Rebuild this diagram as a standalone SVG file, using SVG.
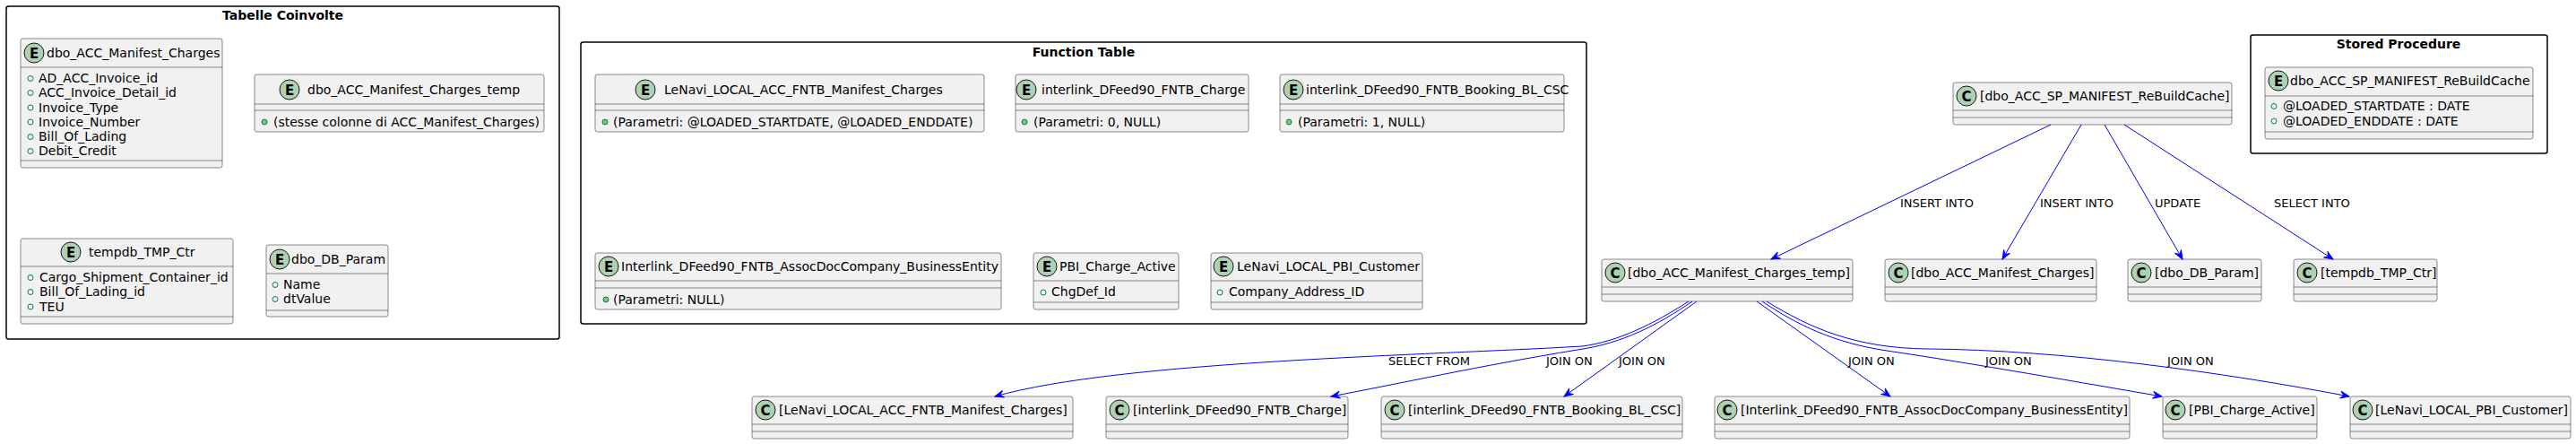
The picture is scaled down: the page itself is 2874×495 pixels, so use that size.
<svg xmlns="http://www.w3.org/2000/svg" width="2874" height="495" viewBox="0 0 2874 495">
<style>
text{font-family:"DejaVu Sans","Liberation Sans",sans-serif;fill:#000}
.pkg{fill:none;stroke:#000;stroke-width:1.5}
.pt{font-size:14px;font-weight:bold;text-anchor:middle}
.box{fill:#F1F1F1;stroke:#181818;stroke-width:0.5}
.ln{stroke:#181818;stroke-width:0.5}
.ci{fill:#ADD1B2;stroke:#181818;stroke-width:1}
.cl{font-size:15px;font-weight:bold;text-anchor:middle}
.nm{font-size:14px}
.fo{fill:none;stroke:#038048;stroke-width:1}
.mf{fill:#84BE84;stroke:#038048;stroke-width:1}
.e{fill:none;stroke:#0000FF;stroke-width:1;marker-end:url(#arr)}
.el{font-size:13px}
</style>
<defs>
<marker id="arr" markerUnits="userSpaceOnUse" markerWidth="12" markerHeight="10" viewBox="-11 -5 12 10" refX="0" refY="0" orient="auto">
<path d="M0,0 L-10,-4 L-6,0 L-10,4 Z" fill="#0000FF" stroke="#0000FF" stroke-width="1"/>
</marker>
</defs>

<g id="pkg_tabelle">
<rect class="pkg" x="7" y="7" width="617" height="371" rx="2.5"/>
<text class="pt" x="315.5" y="22">Tabelle Coinvolte</text>
</g>
<g id="pkg_function">
<rect class="pkg" x="648" y="47" width="1122" height="314" rx="2.5"/>
<text class="pt" x="1209" y="63">Function Table</text>
</g>
<g id="pkg_sp">
<rect class="pkg" x="2511" y="39" width="331" height="132" rx="2.5"/>
<text class="pt" x="2676" y="54">Stored Procedure</text>
</g>

<g id="e_dbo_ACC_Manifest_Charges">
<rect class="box" x="23" y="43" width="225" height="144" rx="2.5"/>
<circle class="ci" cx="38" cy="59" r="11"/><text class="cl" x="38" y="64.5">E</text>
<text class="nm" x="52" y="64">dbo_ACC_Manifest_Charges</text>
<line class="ln" x1="23" y1="75" x2="248" y2="75"/>
<circle class="fo" cx="34" cy="87.5" r="3"/><text class="nm" x="43" y="92">AD_ACC_Invoice_id</text>
<circle class="fo" cx="34" cy="103.5" r="3"/><text class="nm" x="43" y="108">ACC_Invoice_Detail_id</text>
<circle class="fo" cx="34" cy="120" r="3"/><text class="nm" x="43" y="124.5">Invoice_Type</text>
<circle class="fo" cx="34" cy="136" r="3"/><text class="nm" x="43" y="140.5">Invoice_Number</text>
<circle class="fo" cx="34" cy="152.5" r="3"/><text class="nm" x="43" y="157">Bill_Of_Lading</text>
<circle class="fo" cx="34" cy="168.5" r="3"/><text class="nm" x="43" y="173">Debit_Credit</text>
<line class="ln" x1="23" y1="179" x2="248" y2="179"/>
</g>

<g id="e_dbo_ACC_Manifest_Charges_temp">
<rect class="box" x="284" y="83" width="323" height="64" rx="2.5"/>
<circle class="ci" cx="323" cy="100" r="11"/><text class="cl" x="323" y="105.5">E</text>
<text class="nm" x="343" y="105">dbo_ACC_Manifest_Charges_temp</text>
<line class="ln" x1="284" y1="116" x2="607" y2="116"/>
<line class="ln" x1="284" y1="123" x2="607" y2="123"/>
<circle class="mf" cx="295" cy="136" r="3"/><text class="nm" x="305" y="140.5">(stesse colonne di ACC_Manifest_Charges)</text>
</g>

<g id="e_tempdb_TMP_Ctr">
<rect class="box" x="23" y="266" width="237" height="95" rx="2.5"/>
<circle class="ci" cx="79" cy="281" r="11"/><text class="cl" x="79" y="286.5">E</text>
<text class="nm" x="99" y="286">tempdb_TMP_Ctr</text>
<line class="ln" x1="23" y1="297" x2="260" y2="297"/>
<circle class="fo" cx="34" cy="309.5" r="3"/><text class="nm" x="44" y="314">Cargo_Shipment_Container_id</text>
<circle class="fo" cx="34" cy="325.5" r="3"/><text class="nm" x="44" y="330">Bill_Of_Lading_id</text>
<circle class="fo" cx="34" cy="342" r="3"/><text class="nm" x="44" y="346.5">TEU</text>
<line class="ln" x1="23" y1="353" x2="260" y2="353"/>
</g>

<g id="e_dbo_DB_Param">
<rect class="box" x="297" y="273" width="136" height="80" rx="2.5"/>
<circle class="ci" cx="312" cy="289" r="11"/><text class="cl" x="312" y="294.5">E</text>
<text class="nm" x="325" y="294">dbo_DB_Param</text>
<line class="ln" x1="297" y1="305" x2="433" y2="305"/>
<circle class="fo" cx="307" cy="317.5" r="3"/><text class="nm" x="316" y="322">Name</text>
<circle class="fo" cx="307" cy="333.5" r="3"/><text class="nm" x="316" y="338">dtValue</text>
<line class="ln" x1="297" y1="346" x2="433" y2="346"/>
</g>

<g id="f_LeNavi_LOCAL_ACC_FNTB_Manifest_Charges">
<rect class="box" x="664" y="83" width="434" height="64" rx="2.5"/>
<circle class="ci" cx="720" cy="100" r="11"/><text class="cl" x="720" y="105.5">E</text>
<text class="nm" x="741" y="105">LeNavi_LOCAL_ACC_FNTB_Manifest_Charges</text>
<line class="ln" x1="664" y1="116" x2="1098" y2="116"/>
<line class="ln" x1="664" y1="123" x2="1098" y2="123"/>
<circle class="mf" cx="675" cy="136" r="3"/><text class="nm" x="684" y="140.5">(Parametri: @LOADED_STARTDATE, @LOADED_ENDDATE)</text>
</g>

<g id="f_interlink_DFeed90_FNTB_Charge">
<rect class="box" x="1133" y="83" width="260" height="64" rx="2.5"/>
<circle class="ci" cx="1145" cy="100" r="11"/><text class="cl" x="1145" y="105.5">E</text>
<text class="nm" x="1162" y="105">interlink_DFeed90_FNTB_Charge</text>
<line class="ln" x1="1133" y1="116" x2="1393" y2="116"/>
<line class="ln" x1="1133" y1="123" x2="1393" y2="123"/>
<circle class="mf" cx="1143" cy="136" r="3"/><text class="nm" x="1153" y="140.5">(Parametri: 0, NULL)</text>
</g>

<g id="f_interlink_DFeed90_FNTB_Booking_BL_CSC">
<rect class="box" x="1428" y="83" width="317" height="64" rx="2.5"/>
<circle class="ci" cx="1443" cy="100" r="11"/><text class="cl" x="1443" y="105.5">E</text>
<text class="nm" x="1457" y="105">interlink_DFeed90_FNTB_Booking_BL_CSC</text>
<line class="ln" x1="1428" y1="116" x2="1745" y2="116"/>
<line class="ln" x1="1428" y1="123" x2="1745" y2="123"/>
<circle class="mf" cx="1438" cy="136" r="3"/><text class="nm" x="1448" y="140.5">(Parametri: 1, NULL)</text>
</g>

<g id="f_Interlink_DFeed90_FNTB_AssocDocCompany_BusinessEntity">
<rect class="box" x="664" y="282" width="453" height="63" rx="2.5"/>
<circle class="ci" cx="679" cy="297" r="11"/><text class="cl" x="679" y="302.5">E</text>
<text class="nm" x="693" y="302">Interlink_DFeed90_FNTB_AssocDocCompany_BusinessEntity</text>
<line class="ln" x1="664" y1="313" x2="1117" y2="313"/>
<line class="ln" x1="664" y1="321" x2="1117" y2="321"/>
<circle class="mf" cx="676" cy="334" r="3"/><text class="nm" x="684" y="338.5">(Parametri: NULL)</text>
</g>

<g id="f_PBI_Charge_Active">
<rect class="box" x="1153" y="282" width="162" height="63" rx="2.5"/>
<circle class="ci" cx="1168" cy="297" r="11"/><text class="cl" x="1168" y="302.5">E</text>
<text class="nm" x="1182" y="302">PBI_Charge_Active</text>
<line class="ln" x1="1153" y1="313" x2="1315" y2="313"/>
<circle class="fo" cx="1164" cy="326" r="3"/><text class="nm" x="1173" y="330">ChgDef_Id</text>
<line class="ln" x1="1153" y1="337" x2="1315" y2="337"/>
</g>

<g id="f_LeNavi_LOCAL_PBI_Customer">
<rect class="box" x="1351" y="282" width="236" height="63" rx="2.5"/>
<circle class="ci" cx="1365" cy="297" r="11"/><text class="cl" x="1365" y="302.5">E</text>
<text class="nm" x="1380" y="302">LeNavi_LOCAL_PBI_Customer</text>
<line class="ln" x1="1351" y1="313" x2="1587" y2="313"/>
<circle class="fo" cx="1361" cy="326" r="3"/><text class="nm" x="1371" y="330">Company_Address_ID</text>
<line class="ln" x1="1351" y1="337" x2="1587" y2="337"/>
</g>

<g id="s_dbo_ACC_SP_MANIFEST_ReBuildCache">
<rect class="box" x="2527" y="75" width="299" height="80" rx="2.5"/>
<circle class="ci" cx="2542" cy="90" r="11"/><text class="cl" x="2542" y="95.5">E</text>
<text class="nm" x="2555" y="95">dbo_ACC_SP_MANIFEST_ReBuildCache</text>
<line class="ln" x1="2527" y1="107" x2="2826" y2="107"/>
<circle class="fo" cx="2537" cy="118.5" r="3"/><text class="nm" x="2547" y="123">@LOADED_STARTDATE : DATE</text>
<circle class="fo" cx="2537" cy="135" r="3"/><text class="nm" x="2547" y="139.5">@LOADED_ENDDATE : DATE</text>
<line class="ln" x1="2527" y1="147" x2="2826" y2="147"/>
</g>

<g id="c_sp">
<rect class="box" x="2179" y="92" width="311" height="47" rx="2.5"/>
<circle class="ci" cx="2194" cy="107" r="11"/><text class="cl" x="2194" y="112.5">C</text>
<text class="nm" x="2209" y="112">[dbo_ACC_SP_MANIFEST_ReBuildCache]</text>
<line class="ln" x1="2179" y1="123" x2="2490" y2="123"/>
<line class="ln" x1="2179" y1="131" x2="2490" y2="131"/>
</g>
<g id="c_temp">
<rect class="box" x="1787" y="289" width="280" height="47" rx="2.5"/>
<circle class="ci" cx="1802" cy="304" r="11"/><text class="cl" x="1802" y="309.5">C</text>
<text class="nm" x="1816" y="309">[dbo_ACC_Manifest_Charges_temp]</text>
<line class="ln" x1="1787" y1="320" x2="2067" y2="320"/>
<line class="ln" x1="1787" y1="328" x2="2067" y2="328"/>
</g>
<g id="c_charges">
<rect class="box" x="2103" y="289" width="236" height="47" rx="2.5"/>
<circle class="ci" cx="2118" cy="304" r="11"/><text class="cl" x="2118" y="309.5">C</text>
<text class="nm" x="2132" y="309">[dbo_ACC_Manifest_Charges]</text>
<line class="ln" x1="2103" y1="320" x2="2339" y2="320"/>
<line class="ln" x1="2103" y1="328" x2="2339" y2="328"/>
</g>
<g id="c_dbparam">
<rect class="box" x="2374" y="289" width="149" height="47" rx="2.5"/>
<circle class="ci" cx="2389" cy="304" r="11"/><text class="cl" x="2389" y="309.5">C</text>
<text class="nm" x="2404" y="309">[dbo_DB_Param]</text>
<line class="ln" x1="2374" y1="320" x2="2523" y2="320"/>
<line class="ln" x1="2374" y1="328" x2="2523" y2="328"/>
</g>
<g id="c_tmpctr">
<rect class="box" x="2559" y="289" width="160" height="47" rx="2.5"/>
<circle class="ci" cx="2574" cy="304" r="11"/><text class="cl" x="2574" y="309.5">C</text>
<text class="nm" x="2589" y="309">[tempdb_TMP_Ctr]</text>
<line class="ln" x1="2559" y1="320" x2="2719" y2="320"/>
<line class="ln" x1="2559" y1="328" x2="2719" y2="328"/>
</g>

<g id="c_lenavi_acc">
<rect class="box" x="839" y="442" width="358" height="47" rx="2.5"/>
<circle class="ci" cx="854" cy="457" r="11"/><text class="cl" x="854" y="462.5">C</text>
<text class="nm" x="869" y="462">[LeNavi_LOCAL_ACC_FNTB_Manifest_Charges]</text>
<line class="ln" x1="839" y1="473" x2="1197" y2="473"/>
<line class="ln" x1="839" y1="481" x2="1197" y2="481"/>
</g>
<g id="c_charge">
<rect class="box" x="1234" y="442" width="270" height="47" rx="2.5"/>
<circle class="ci" cx="1249" cy="457" r="11"/><text class="cl" x="1249" y="462.5">C</text>
<text class="nm" x="1264" y="462">[interlink_DFeed90_FNTB_Charge]</text>
<line class="ln" x1="1234" y1="473" x2="1504" y2="473"/>
<line class="ln" x1="1234" y1="481" x2="1504" y2="481"/>
</g>
<g id="c_booking">
<rect class="box" x="1541" y="442" width="336" height="47" rx="2.5"/>
<circle class="ci" cx="1556" cy="457" r="11"/><text class="cl" x="1556" y="462.5">C</text>
<text class="nm" x="1571" y="462">[interlink_DFeed90_FNTB_Booking_BL_CSC]</text>
<line class="ln" x1="1541" y1="473" x2="1877" y2="473"/>
<line class="ln" x1="1541" y1="481" x2="1877" y2="481"/>
</g>
<g id="c_assoc">
<rect class="box" x="1913" y="442" width="463" height="47" rx="2.5"/>
<circle class="ci" cx="1927" cy="457" r="11"/><text class="cl" x="1927" y="462.5">C</text>
<text class="nm" x="1942" y="462">[Interlink_DFeed90_FNTB_AssocDocCompany_BusinessEntity]</text>
<line class="ln" x1="1913" y1="473" x2="2376" y2="473"/>
<line class="ln" x1="1913" y1="481" x2="2376" y2="481"/>
</g>
<g id="c_pbi_charge">
<rect class="box" x="2413" y="442" width="172" height="47" rx="2.5"/>
<circle class="ci" cx="2427" cy="457" r="11"/><text class="cl" x="2427" y="462.5">C</text>
<text class="nm" x="2442" y="462">[PBI_Charge_Active]</text>
<line class="ln" x1="2413" y1="473" x2="2585" y2="473"/>
<line class="ln" x1="2413" y1="481" x2="2585" y2="481"/>
</g>
<g id="c_pbi_customer">
<rect class="box" x="2622" y="442" width="246" height="47" rx="2.5"/>
<circle class="ci" cx="2636" cy="457" r="11"/><text class="cl" x="2636" y="462.5">C</text>
<text class="nm" x="2650" y="462">[LeNavi_LOCAL_PBI_Customer]</text>
<line class="ln" x1="2622" y1="473" x2="2868" y2="473"/>
<line class="ln" x1="2622" y1="481" x2="2868" y2="481"/>
</g>

<g id="connectors">
<path class="e" d="M2288,139 L1976,289"/>
<text class="el" x="2120" y="231">INSERT INTO</text>
<path class="e" d="M2322,139 L2234,289"/>
<text class="el" x="2276" y="231">INSERT INTO</text>
<path class="e" d="M2348,139 L2435,289"/>
<text class="el" x="2404" y="231">UPDATE</text>
<path class="e" d="M2370,139 L2603,289"/>
<text class="el" x="2537" y="231">SELECT INTO</text>

<path class="e" d="M1884,336 C1845,361 1805,381 1765,386 C1600,396 1250,402 1110,442"/>
<text class="el" x="1549" y="407">SELECT FROM</text>
<path class="e" d="M1888,336 C1850,362 1810,383 1760,390 C1650,408 1560,428 1485,442"/>
<text class="el" x="1725" y="407">JOIN ON</text>
<path class="e" d="M1893,336 L1745,442"/>
<text class="el" x="1806" y="407">JOIN ON</text>
<path class="e" d="M1960,336 L2109,442"/>
<text class="el" x="2062" y="407">JOIN ON</text>
<path class="e" d="M1966,336 C2005,362 2045,382 2105,391 C2200,405 2330,428 2412,442"/>
<text class="el" x="2215" y="407">JOIN ON</text>
<path class="e" d="M1971,336 C2020,366 2070,388 2150,389 C2300,390 2480,415 2621,442"/>
<text class="el" x="2418" y="407">JOIN ON</text>
</g>
</svg>
